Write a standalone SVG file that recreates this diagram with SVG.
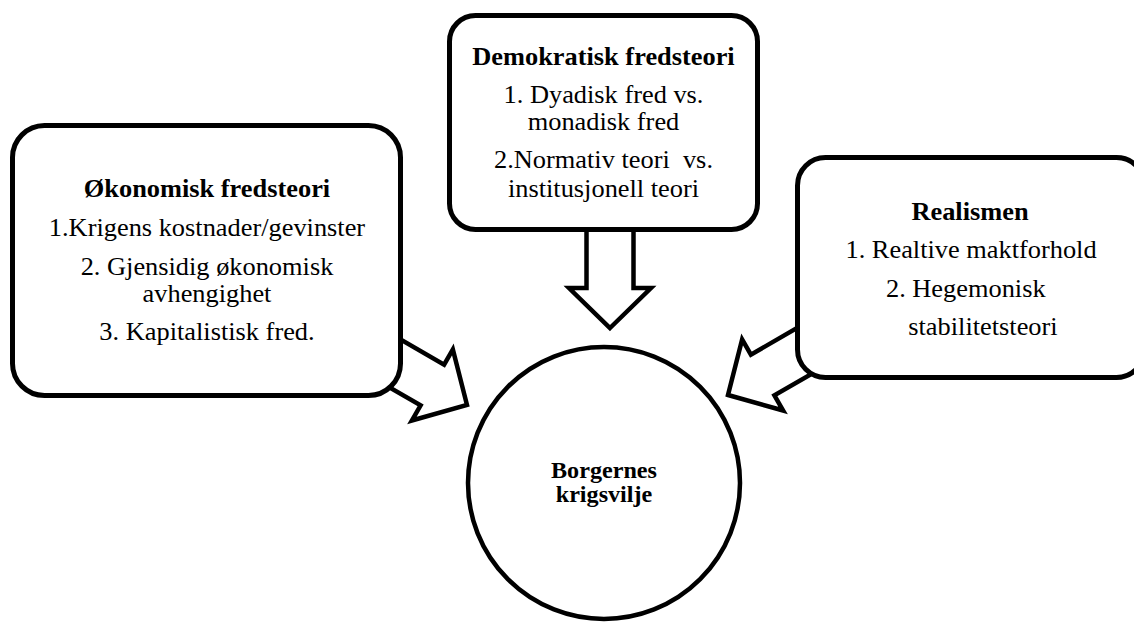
<svg xmlns="http://www.w3.org/2000/svg" xmlns:xlink="http://www.w3.org/1999/xlink" width="1134" height="622" viewBox="0 0 1134 622">
  <style>
    .box { fill: #ffffff; stroke: #000000; stroke-width: 5; }
    .circ { fill: #ffffff; stroke: #000000; stroke-width: 4.5; }
    .arrow { fill: #ffffff; stroke: #000000; stroke-width: 4.5; stroke-linejoin: miter; stroke-miterlimit: 10; }
    .t { font-family: "Liberation Serif", "Times New Roman", serif; font-size: 25px; fill: #000000; text-anchor: middle; }
    .b { font-weight: bold; }
    .c { font-family: "Liberation Serif", "Times New Roman", serif; font-size: 23px; font-weight: bold; fill: #000000; text-anchor: middle; }
  </style>
  <defs>
    <polygon id="blockArrow" points="0,0 -40,-41 -40,-23.5 -115,-23.5 -115,23.5 -40,23.5 -40,41"/>
  </defs>
  <rect width="1134" height="622" fill="#ffffff"/>

  <g id="connectors">
    <use xlink:href="#blockArrow" href="#blockArrow" class="arrow" transform="translate(610 328) rotate(90)"/>
    <use xlink:href="#blockArrow" href="#blockArrow" class="arrow" transform="translate(467 405) rotate(30)"/>
    <use xlink:href="#blockArrow" href="#blockArrow" class="arrow" transform="translate(728 395) rotate(150)"/>
  </g>

  <g id="node-demokratisk">
    <rect class="box" x="449.5" y="15.5" width="308" height="214" rx="26" ry="26"/>
    <g transform="translate(603.5 0) scale(1.055 1)">
      <text class="t b" x="0" y="65">Demokratisk fredsteori</text>
      <text class="t" x="0" y="103">1. Dyadisk fred vs.</text>
      <text class="t" x="0" y="130">monadisk fred</text>
      <text class="t" x="0" y="168" xml:space="preserve">2.Normativ teori  vs.</text>
      <text class="t" x="0" y="197">institusjonell teori</text>
    </g>
  </g>

  <g id="node-okonomisk">
    <rect class="box" x="12.5" y="125.5" width="388" height="270" rx="32" ry="32"/>
    <g transform="translate(207 0) scale(1.055 1)">
      <text class="t b" x="0" y="197">Økonomisk fredsteori</text>
      <text class="t" x="0" y="236">1.Krigens kostnader/gevinster</text>
      <text class="t" x="0" y="275">2. Gjensidig økonomisk</text>
      <text class="t" x="0" y="302">avhengighet</text>
      <text class="t" x="0" y="340">3. Kapitalistisk fred.</text>
    </g>
  </g>

  <g id="node-realismen">
    <rect class="box" x="797.5" y="157.5" width="347" height="220" rx="28" ry="28"/>
    <g transform="translate(970 0) scale(1.055 1)">
      <text class="t b" x="0" y="220">Realismen</text>
      <text class="t" x="1" y="258">1. Realtive maktforhold</text>
      <text class="t" x="-4" y="297">2. Hegemonisk</text>
      <text class="t" x="12.3" y="335">stabilitetsteori</text>
    </g>
  </g>

  <g id="node-borgernes">
    <circle class="circ" cx="604" cy="483" r="136"/>
    <g transform="translate(604 0) scale(1.05 1)">
      <text class="c" x="0" y="478">Borgernes</text>
      <text class="c" x="0" y="502">krigsvilje</text>
    </g>
  </g>
</svg>
